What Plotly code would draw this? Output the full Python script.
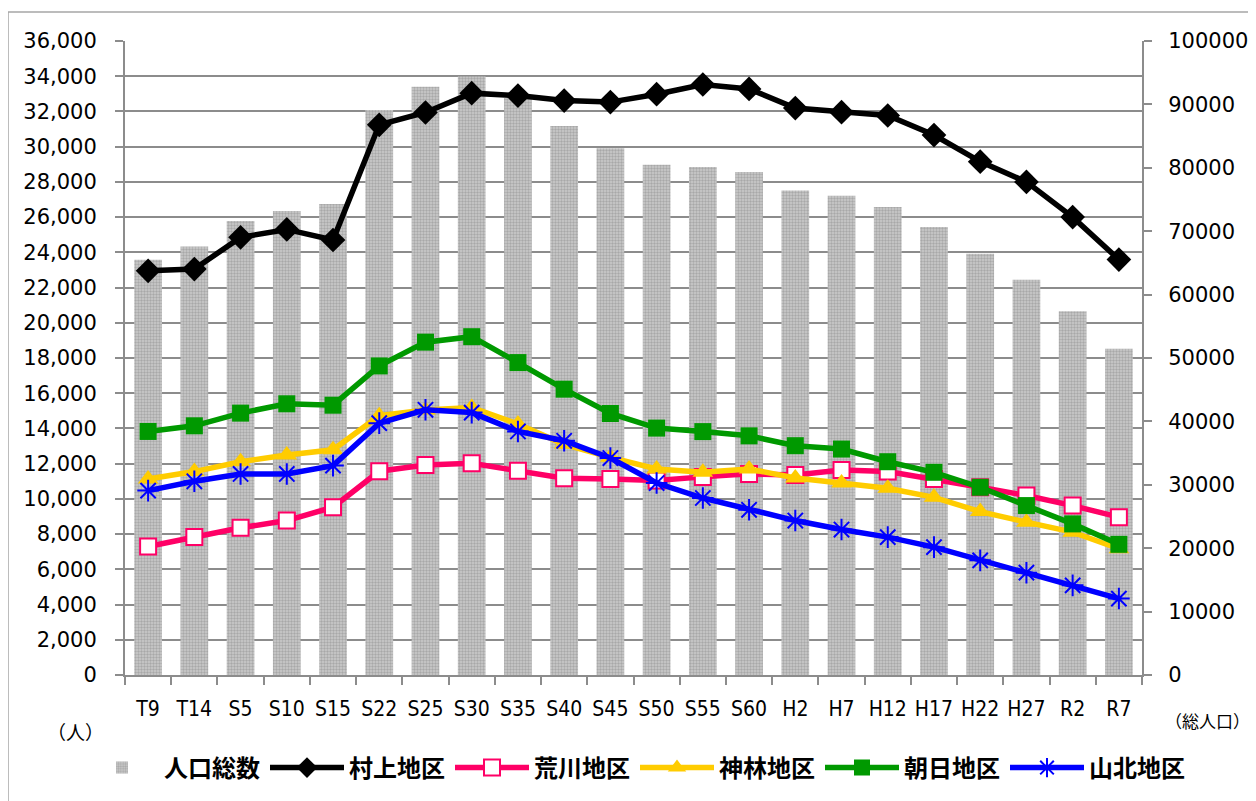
import plotly.graph_objects as go

categories = ["T9", "T14", "S5", "S10", "S15", "S22", "S25", "S30", "S35", "S40", "S45",
              "S50", "S55", "S60", "H2", "H7", "H12", "H17", "H22", "H27", "R2", "R7"]

total_pop = [65500, 67600, 71600, 73200, 74300, 89100, 92800, 94400, 91000, 86600, 83100,
             80470, 80110, 79320, 76430, 75590, 73800, 70660, 66460, 62360, 57370, 51450]

murakami = [22950, 23050, 24850, 25300, 24700, 31240, 31940, 33040, 32900, 32620, 32530,
            32980, 33530, 33280, 32190, 31960, 31770, 30660, 29150, 28000, 26000, 23590]

arakawa = [7300, 7830, 8360, 8770, 9530, 11570, 11920, 12020, 11600, 11170, 11130,
           11040, 11250, 11420, 11360, 11640, 11550, 11130, 10660, 10190, 9620, 8960]

kamihayashi = [11130, 11550, 12110, 12490, 12790, 14720, 15050, 15190, 14250, 13100, 12360,
               11700, 11510, 11700, 11190, 10900, 10600, 10090, 9280, 8680, 8110, 7170]

asahi = [13830, 14150, 14870, 15400, 15320, 17550, 18900, 19210, 17740, 16230, 14850,
         14020, 13820, 13580, 13020, 12830, 12110, 11510, 10660, 9620, 8580, 7420]

sanpoku = [10470, 11000, 11415, 11415, 11890, 14300, 15060, 14900, 13830, 13300, 12320,
           10900, 10050, 9380, 8770, 8260, 7830, 7260, 6510, 5810, 5090, 4340]

left_ticks = list(range(0, 36001, 2000))
right_ticks = list(range(0, 100001, 10000))

GRAY = "#8c8c8c"
XFONT = "DejaVu Sans Condensed, Roboto, sans-serif"
YFONT = "DejaVu Sans, sans-serif"
JFONT = "Noto Sans CJK JP"

# page body has an 8px margin: plot area target in page pixels is x 125..1142, y 41..676
OFF = 8
PL, PR, PT, PB = 125, 1142, 41, 676
PW, PH = PR - PL, PB - PT


def px(x):
    return (x - PL) / PW


def py(y):
    return (PB - y) / PH


fig = go.Figure()

fig.add_trace(go.Bar(
    x=categories, y=total_pop, name="人口総数", yaxis="y", width=0.6,
    marker=dict(color="#b8b8b8", line=dict(width=0),
                pattern=dict(shape=".", size=3, solidity=0.5, fgcolor="#858585", bgcolor="#cbcbcb")),
))

line_series = [
    ("村上地区", murakami, "#000000", dict(symbol="diamond", size=19, color="#000000")),
    ("荒川地区", arakawa, "#FF0066", dict(symbol="square", size=16, color="#FFFFFF",
                                          line=dict(color="#FF0066", width=2))),
    ("神林地区", kamihayashi, "#FFCC00", dict(symbol="triangle-up", size=18, color="#FFCC00")),
    ("朝日地区", asahi, "#009900", dict(symbol="square", size=17, color="#009900")),
    ("山北地区", sanpoku, "#0000FF", dict(symbol="asterisk-open", size=18,
                                          line=dict(color="#0000FF", width=2))),
]
for name, vals, col, mk in line_series:
    fig.add_trace(go.Scatter(
        x=categories, y=vals, name=name, yaxis="y2", mode="lines+markers",
        line=dict(color=col, width=5.5), marker=mk,
    ))

W, H = 1256 - OFF, 801 - OFF
fig.update_layout(
    width=W, height=H,
    margin=dict(l=PL - OFF, r=OFF + W - PR, t=PT - OFF, b=OFF + H - PB),
    paper_bgcolor="white", plot_bgcolor="white",
    showlegend=True,
    legend=dict(orientation="h", x=px(80), xanchor="left", y=py(768), yanchor="middle",
                font=dict(family=JFONT, size=24, color="#000000", weight="bold"),
                itemwidth=74, tracegroupgap=0, traceorder="normal"),
    bargap=0.4,
    xaxis=dict(
        type="category", range=[-0.5, len(categories) - 0.5],
        showline=True, linecolor=GRAY, linewidth=2,
        ticks="outside", tickson="boundaries", ticklen=8, tickcolor=GRAY, tickwidth=1.5,
        tickfont=dict(family=XFONT, size=21, color="#000000"), tickangle=0,
        showgrid=False, automargin=False, ticklabelstandoff=14,
    ),
    yaxis=dict(
        side="right", range=[0, 100000], tickvals=right_ticks, tickformat="d",
        showgrid=False, showline=True, linecolor=GRAY, linewidth=2,
        ticks="outside", ticklen=8, tickcolor=GRAY, tickwidth=1.5,
        tickfont=dict(family=YFONT, size=21, color="#000000"),
        zeroline=False, ticklabelstandoff=12, automargin=False,
    ),
    yaxis2=dict(
        overlaying="y", side="left", range=[0, 36000], tickvals=left_ticks, tickformat=",",
        showgrid=True, gridcolor=GRAY, gridwidth=2,
        showline=True, linecolor=GRAY, linewidth=2,
        ticks="outside", ticklen=8, tickcolor=GRAY, tickwidth=1.5,
        tickfont=dict(family=YFONT, size=21, color="#000000"),
        zeroline=False, ticklabelstandoff=14, automargin=False,
    ),
    annotations=[
        dict(text="（人）", xref="paper", yref="paper", x=px(75), y=py(733),
             showarrow=False, xanchor="center", yanchor="middle",
             font=dict(family=JFONT, size=19, color="#000000")),
        dict(text="（総人口）", xref="paper", yref="paper", x=px(1252), y=py(722),
             showarrow=False, xanchor="right", yanchor="middle",
             font=dict(family=JFONT, size=17, color="#000000")),
    ],
    shapes=[
        dict(type="rect", xref="paper", yref="paper",
             x0=px(8), x1=px(1270), y0=py(820), y1=py(12),
             line=dict(color="#a6a6a6", width=1.5), fillcolor="rgba(0,0,0,0)", layer="below"),
    ],
)

fig.write_html("out.html")
